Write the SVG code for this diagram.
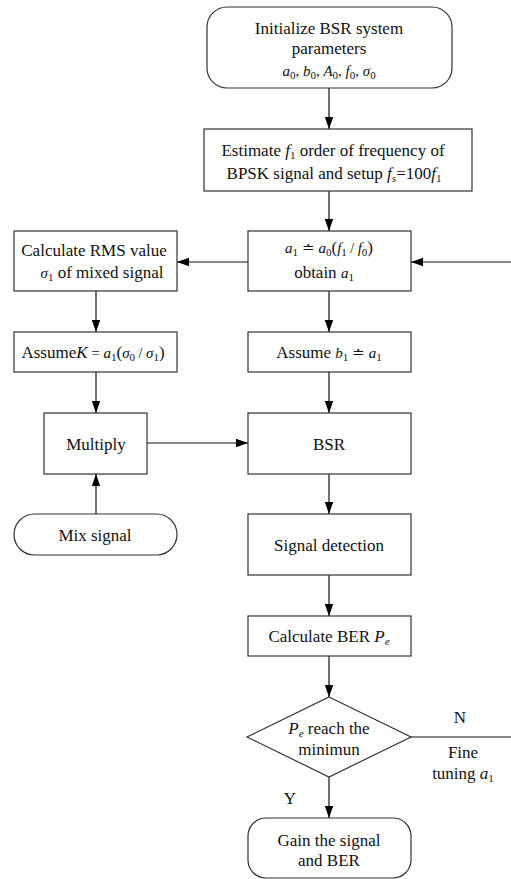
<svg xmlns="http://www.w3.org/2000/svg" width="511" height="879" viewBox="0 0 511 879">
<style>
.b{fill:#fff;stroke:#333;stroke-width:1.2}
.t{font-family:"Liberation Serif","Times New Roman",serif;font-size:17px;fill:#111;text-anchor:middle}
.m{font-family:"Liberation Serif","Times New Roman",serif;font-size:15px;font-style:italic}
.i{font-style:italic}
.s{font-size:11px;font-style:normal}
.si{font-size:11px;font-style:italic}
.c{stroke:#111;stroke-width:1.2;fill:none}
.a{marker-end:url(#ah)}
</style>
<defs>
<marker id="ah" markerUnits="userSpaceOnUse" markerWidth="12" markerHeight="14" refX="12" refY="5" viewBox="0 0 12 10" orient="auto">
<path d="M0,0.8 L12,5 L0,9.2 Z" fill="#000"/>
</marker>
</defs>
<g id="connectors">
<line class="c a" x1="329" y1="88" x2="329" y2="129"/>
<line class="c a" x1="329" y1="191" x2="329" y2="231"/>
<line class="c a" x1="248" y1="262" x2="177" y2="262"/>
<line class="c a" x1="511" y1="262" x2="411" y2="262"/>
<line class="c a" x1="96" y1="291" x2="96" y2="332"/>
<line class="c a" x1="329" y1="291" x2="329" y2="332"/>
<line class="c a" x1="96" y1="372" x2="96" y2="413"/>
<line class="c a" x1="329" y1="372" x2="329" y2="413"/>
<line class="c a" x1="147" y1="443" x2="248" y2="443"/>
<line class="c a" x1="96" y1="514" x2="96" y2="474"/>
<line class="c a" x1="329" y1="474" x2="329" y2="514"/>
<line class="c a" x1="329" y1="575" x2="329" y2="616"/>
<line class="c a" x1="329" y1="656" x2="329" y2="697"/>
<line class="c a" x1="329" y1="777" x2="329" y2="818"/>
<line class="c" x1="411" y1="737" x2="511" y2="737"/>
<text class="t" x="460" y="723">N</text>
<text class="t" x="463" y="758">Fine</text>
<text class="t" x="463" y="779">tuning <tspan class="i">a</tspan><tspan class="s" dy="3">1</tspan></text>
<text class="t" x="290" y="804">Y</text>
</g>
<g id="init">
<rect class="b" x="207" y="7" width="245" height="81" rx="20"/>
<text class="t" x="329" y="34">Initialize BSR system</text>
<text class="t" x="329" y="54">parameters</text>
<text class="t" x="329" y="76"><tspan class="m">a</tspan><tspan class="s" dy="3">0</tspan><tspan dy="-3" font-size="15">, </tspan><tspan class="m">b</tspan><tspan class="s" dy="3">0</tspan><tspan dy="-3" font-size="15">, </tspan><tspan class="m">A</tspan><tspan class="s" dy="3">0</tspan><tspan dy="-3" font-size="15">, </tspan><tspan class="m">f</tspan><tspan class="s" dy="3">0</tspan><tspan dy="-3" font-size="15">, </tspan><tspan class="m">σ</tspan><tspan class="s" dy="3">0</tspan></text>
</g>
<g id="estimate">
<rect class="b" x="204" y="129" width="268" height="62"/>
<text class="t" x="333" y="156">Estimate <tspan class="i">f</tspan><tspan class="s" dy="3">1</tspan><tspan dy="-3"> order of frequency of</tspan></text>
<text class="t" x="334" y="179">BPSK signal and setup <tspan class="i">f</tspan><tspan class="si" dy="3">s</tspan><tspan dy="-3">=100</tspan><tspan class="i">f</tspan><tspan class="s" dy="3">1</tspan></text>
</g>
<g id="a1">
<rect class="b" x="248" y="231" width="163" height="60"/>
<text class="t" x="329" y="253"><tspan class="m">a</tspan><tspan class="s" dy="3">1</tspan><tspan dy="-3" font-size="15"> ≐ </tspan><tspan class="m">a</tspan><tspan class="s" dy="3">0</tspan><tspan dy="-3" font-size="17">(</tspan><tspan class="m">f</tspan><tspan class="s" dy="3">1</tspan><tspan dy="-3" font-size="14"> / </tspan><tspan class="m">f</tspan><tspan class="s" dy="3">0</tspan><tspan dy="-3" font-size="17">)</tspan></text>
<text class="t" x="324" y="278">obtain  <tspan class="m">a</tspan><tspan class="s" dy="3">1</tspan></text>
</g>
<g id="rms">
<rect class="b" x="14" y="231" width="163" height="60"/>
<text class="t" x="94" y="256">Calculate RMS value</text>
<text class="t" x="102" y="278"><tspan class="m">σ</tspan><tspan class="s" dy="3">1</tspan><tspan dy="-3">   of mixed signal</tspan></text>
</g>
<g id="assumeK">
<rect class="b" x="14" y="332" width="163" height="40"/>
<text class="t" x="93" y="358">Assume<tspan class="i">K</tspan><tspan font-size="15"> = </tspan><tspan class="m">a</tspan><tspan class="s" dy="3">1</tspan><tspan dy="-3" font-size="17">(</tspan><tspan class="m">σ</tspan><tspan class="s" dy="3">0</tspan><tspan dy="-3" font-size="14"> / </tspan><tspan class="m">σ</tspan><tspan class="s" dy="3">1</tspan><tspan dy="-3" font-size="17">)</tspan></text>
</g>
<g id="assumeB">
<rect class="b" x="248" y="332" width="163" height="40"/>
<text class="t" x="329" y="358">Assume  <tspan class="m">b</tspan><tspan class="s" dy="3">1</tspan><tspan dy="-3" font-size="15"> ≐ </tspan><tspan class="m">a</tspan><tspan class="s" dy="3">1</tspan></text>
</g>
<g id="multiply">
<rect class="b" x="44" y="413" width="103" height="61"/>
<text class="t" x="96" y="450">Multiply</text>
</g>
<g id="bsr">
<rect class="b" x="248" y="413" width="163" height="61"/>
<text class="t" x="329" y="450">BSR</text>
</g>
<g id="mix">
<rect class="b" x="14" y="514" width="163" height="41" rx="20.5"/>
<text class="t" x="95" y="541">Mix signal</text>
</g>
<g id="detect">
<rect class="b" x="248" y="514" width="163" height="61"/>
<text class="t" x="329" y="551">Signal detection</text>
</g>
<g id="ber">
<rect class="b" x="248" y="616" width="163" height="40"/>
<text class="t" x="329" y="642">Calculate BER <tspan class="i">P</tspan><tspan class="si" dy="3">e</tspan></text>
</g>
<g id="decision">
<polygon class="b" points="329,697 411,737 329,777 247,737"/>
<text class="t" x="329" y="734"><tspan class="i">P</tspan><tspan class="si" dy="3">e</tspan><tspan dy="-3"> reach the</tspan></text>
<text class="t" x="329" y="755">minimun</text>
</g>
<g id="gain">
<rect class="b" x="248" y="818" width="163" height="60" rx="18"/>
<text class="t" x="329" y="846">Gain the signal</text>
<text class="t" x="329" y="866">and BER</text>
</g>
</svg>
